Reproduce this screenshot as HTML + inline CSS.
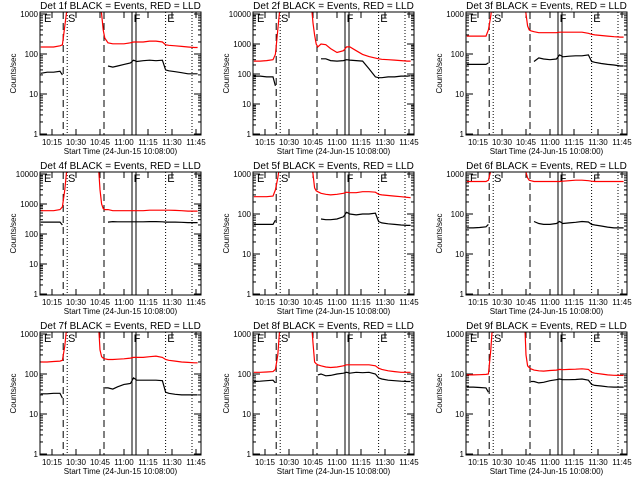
<!DOCTYPE html>
<html><head><meta charset="utf-8"><style>
html,body{margin:0;padding:0;background:#fff}
svg{display:block;font-family:"Liberation Sans",sans-serif}
</style></head><body>
<svg id="chart" width="640" height="480" viewBox="0 0 640 480"></svg>
<script>
const times=[8,12,16,20,21.5,23,24.5,44,45,46,47,48,50,53,56,60,64,66,68,72,76,80,84,86,88,92,96,100,104,106];
const tickMinutes=[15,30,45,60,75,90,105];
const tickLabels=["10:15","10:30","10:45","11:00","11:15","11:30","11:45"];
const N=null;
const red1=[150,150,150,160,170,500,1500,5000,2000,1000,400,250,190,180,180,180,190,200,200,200,210,210,200,170,165,160,155,150,145,145];
const black1=[33,35,35,37,30,N,N,N,N,N,N,N,50,47,50,55,60,70,65,68,70,68,70,40,38,36,34,32,32,32];
const red2=[270,270,280,300,450,3000,20000,20000,5000,2000,1000,800,1000,950,700,520,600,800,800,600,450,380,340,320,310,300,290,280,270,270];
const black2=[85,85,80,80,40,N,N,N,N,N,N,N,320,320,280,270,280,300,290,280,270,150,80,75,75,80,80,85,85,88];
const red3=[280,280,280,280,400,900,3000,3000,1000,500,400,380,360,340,340,340,340,350,350,350,350,350,330,310,300,290,280,270,265,265];
const black3=[55,55,55,55,60,N,N,N,N,N,N,N,65,80,75,72,75,95,85,88,90,90,95,65,62,58,55,53,50,50];
const red4=[600,600,600,650,800,3000,20000,20000,3000,1000,700,650,650,600,600,600,600,600,600,600,620,620,620,620,620,610,600,580,580,580];
const black4=[250,250,250,250,200,N,N,N,N,N,N,N,250,260,255,255,255,255,255,255,260,260,255,250,250,250,245,240,240,240];
const red5=[270,270,270,280,400,800,2000,2000,1000,450,380,360,330,310,300,310,330,350,340,340,360,360,350,310,300,290,280,270,260,255];
const black5=[55,55,55,55,70,N,N,N,N,N,N,N,75,72,72,75,85,110,100,95,100,100,105,65,60,57,55,53,52,52];
const red6=[650,650,650,650,700,1200,2000,2000,1100,800,700,680,650,650,650,650,650,650,660,680,700,700,680,660,650,650,650,650,650,650];
const black6=[45,45,46,48,55,N,N,N,N,N,N,N,65,58,55,55,58,65,58,60,62,65,63,55,53,50,47,45,45,45];
const red7=[200,200,205,210,220,500,2000,2000,400,270,250,240,230,230,235,240,250,260,260,260,270,280,260,230,220,210,200,195,190,190];
const black7=[32,32,33,33,25,N,N,N,N,N,N,45,45,42,48,55,58,80,70,70,70,70,68,35,33,31,30,30,30,30];
const red8=[110,110,112,115,130,300,2000,2000,600,200,180,170,160,150,145,150,160,170,170,170,170,170,160,140,130,120,115,110,110,110];
const black8=[65,66,68,70,60,N,N,N,N,N,N,95,100,90,92,100,105,110,105,110,108,110,100,80,75,70,68,66,65,65];
const red9=[95,95,96,98,100,400,3000,3000,300,160,145,135,125,120,118,122,125,130,128,130,132,135,130,110,105,100,95,93,92,92];
const black9=[47,47,46,45,35,N,N,N,N,N,N,65,65,60,62,68,72,75,72,72,73,75,70,55,52,50,48,47,47,47];
const redSeries=[red1,red2,red3,red4,red5,red6,red7,red8,red9];
const blackSeries=[black1,black2,black3,black4,black5,black6,black7,black8,black9];
const decades=[3,4,3,4,3,3,3,3,3];
const markerMinutes=[22,24.5,47.5,65,67.5,86,102.5];
const markerStyles=["dash","dot","dash","solid","solid","dot","dot"];

const NS="http://www.w3.org/2000/svg";
const svg=document.getElementById('chart');
function mk(tag,attrs,parent){const e=document.createElementNS(NS,tag);for(const k in attrs)e.setAttribute(k,attrs[k]);(parent||svg).appendChild(e);return e;}
const lefts=[40,253,466], tops=[12,172,332], W=161, H=123;

for(let p=0;p<9;p++){
  const L=lefts[p%3], T=tops[Math.floor(p/3)], B=T+H, R=L+W;
  const dec=decades[p];
  const perDec=(H-3)/dec;
  const xs=t=>L+(t-7.5)*1.6;
  const ys=v=>B-1-Math.log10(v)*perDec;
  const g=mk('g',{});
  
  
  const cid='clip'+p;
  const cp=mk('clipPath',{id:cid},g);mk('rect',{x:L,y:T,width:W,height:H},cp);
  const tt=mk('text',{x:L+W/2,y:T-3,'text-anchor':'middle','font-size':'10'},g);
  tt.textContent='Det '+(p+1)+'f BLACK = Events, RED = LLD';
  
  
  const yl=mk('text',{x:0,y:0,'font-size':'8','text-anchor':'middle',transform:'translate('+(L-24)+','+(T+H/2)+') rotate(-90)'},g);
  yl.textContent='Counts/sec';
  
  
  for(let d=0;d<=dec;d++){
    const y=ys(Math.pow(10,d));
    mk('line',{x1:L,x2:L+7,y1:y,y2:y,stroke:'#000'},g);
    mk('line',{x1:R,x2:R-7,y1:y,y2:y,stroke:'#000'},g);
    const lb=mk('text',{x:L-2,y:y+3,'text-anchor':'end','font-size':'8'},g);
    lb.textContent=String(Math.pow(10,d));
    
    
    if(d<dec){for(let m=2;m<10;m++){const ym=ys(m*Math.pow(10,d));
      mk('line',{x1:L,x2:L+3,y1:ym,y2:ym,stroke:'#000'},g);
      mk('line',{x1:R,x2:R-3,y1:ym,y2:ym,stroke:'#000'},g);}}
  }
  tickMinutes.forEach((t,i)=>{
    const x=xs(t);
    mk('line',{x1:x,x2:x,y1:B,y2:B-6,stroke:'#000'},g);
    mk('line',{x1:x,x2:x,y1:T,y2:T+6,stroke:'#000'},g);
    const lb=mk('text',{x:x,y:B+10,'text-anchor':'middle','font-size':'8'},g);
    lb.textContent=tickLabels[i];
    
    
  });
  const xl=mk('text',{x:L+W/2,y:B+19,'text-anchor':'middle','font-size':'8'},g);
  xl.textContent='Start Time (24-Jun-15 10:08:00)';
  
  
  markerMinutes.forEach((t,i)=>{
    const x=xs(t);const s=markerStyles[i];
    const ln=mk('line',{x1:x,x2:x,y1:T,y2:B,stroke:'#000','stroke-width':1,'stroke-dasharray':s==='dash'?'7,4':(s==='dot'?'1,2':'none')},g);
    
    
  });
  [['E',10],['S',25],['F',66],['E',87]].forEach(([c,t])=>{
    const tx=mk('text',{x:xs(t),y:T+10,'font-size':'11'},g);tx.textContent=c;
    
    
  });
  function path(arr){let d='',pen=false;arr.forEach((v,i)=>{if(v===null){pen=false;return;}d+=(pen?'L':'M')+xs(times[i]).toFixed(1)+' '+ys(v).toFixed(1)+' ';pen=true;});return d;}
  const rp=mk('path',{d:path(redSeries[p]),fill:'none',stroke:'#f00','stroke-width':1.2,'clip-path':'url(#'+cid+')'},g);
  
  
  const bp=mk('path',{d:path(blackSeries[p]),fill:'none',stroke:'#000','stroke-width':1.2,'clip-path':'url(#'+cid+')'},g);
  
  
  const box=mk('rect',{x:L,y:T,width:W,height:H,fill:'none',stroke:'#000'},g);
  
  
}
</script>
</body></html>
